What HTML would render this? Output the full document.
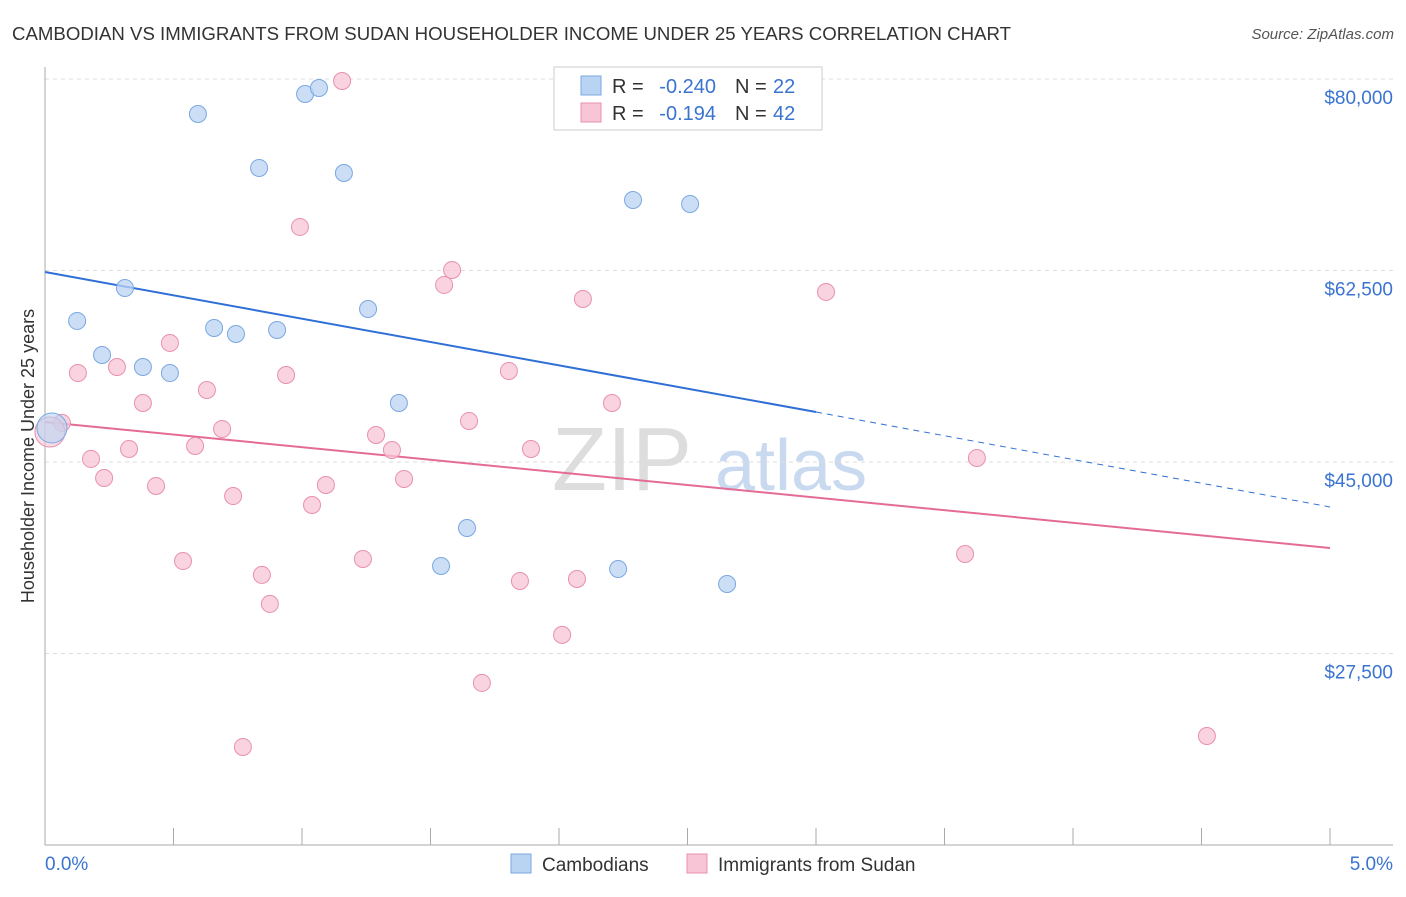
<!DOCTYPE html>
<html><head><meta charset="utf-8"><style>
body{margin:0;background:#fff;font-family:"Liberation Sans",Arial,sans-serif;}
svg text{font-family:"Liberation Sans",Arial,sans-serif;}
</style></head><body>
<svg id="chart" width="1406" height="892">
<text x="12" y="40" font-size="18" fill="#333" textLength="999" lengthAdjust="spacingAndGlyphs">CAMBODIAN VS IMMIGRANTS FROM SUDAN HOUSEHOLDER INCOME UNDER 25 YEARS CORRELATION CHART</text>
<text x="1394" y="39" font-size="15" fill="#555" font-style="italic" text-anchor="end">Source: ZipAtlas.com</text>
<text transform="translate(34,456) rotate(-90)" font-size="18" fill="#333" text-anchor="middle">Householder Income Under 25 years</text>
<g><text x="552" y="490" font-size="90" fill="#ddd" font-family="Liberation Serif">ZIP</text><text x="715" y="490" font-size="72" fill="#c9daf0">atlas</text></g>
<g id="grid"></g><g id="axes"></g><g id="lines"></g><g id="pts"></g>
<g>
<rect x="554" y="67" width="268" height="63" fill="#fff" stroke="#ccc"/>
<rect x="581" y="76" width="20" height="19" fill="#b9d3f3" stroke="#7aa8e0"/>
<rect x="581" y="103" width="20" height="19" fill="#f7c5d5" stroke="#e890ad"/>
<text x="612" y="93" font-size="20" fill="#333">R =</text>
<text x="716" y="93" font-size="20" fill="#3a74d0" text-anchor="end">-0.240</text>
<text x="735" y="93" font-size="20" fill="#333">N =</text>
<text x="773" y="93" font-size="20" fill="#3a74d0">22</text>
<text x="612" y="120" font-size="20" fill="#333">R =</text>
<text x="716" y="120" font-size="20" fill="#3a74d0" text-anchor="end">-0.194</text>
<text x="735" y="120" font-size="20" fill="#333">N =</text>
<text x="773" y="120" font-size="20" fill="#3a74d0">42</text>
</g>
<g>
<rect x="511" y="854" width="20" height="19" fill="#b9d3f3" stroke="#7aa8e0"/>
<text x="542" y="871" font-size="19" fill="#333">Cambodians</text>
<rect x="687" y="854" width="20" height="19" fill="#f7c5d5" stroke="#e890ad"/>
<text x="718" y="871" font-size="19" fill="#333">Immigrants from Sudan</text>
</g>
</svg>
<script>
const yTicks=[80000,62500,45000,27500];
const yTickLabels=["$80,000","$62,500","$45,000","$27,500"];
const xTickLabels=["0.0%","5.0%"];
const blueX=[0.595,0.833,1.012,1.066,1.163,2.288,2.51,0.311,0.125,0.658,0.743,0.903,1.257,0.222,0.381,0.486,1.377,1.642,1.541,2.23,2.654,0.027];
const blueY=[76.8,71.87,78.63,79.18,71.41,68.94,68.58,60.9,57.89,57.25,56.7,57.06,58.98,54.78,53.68,53.13,50.39,38.97,35.5,35.22,33.85,48.11];
const pinkX=[1.156,0.992,1.584,1.553,2.093,3.039,0.486,0.128,0.28,0.938,1.805,0.63,0.381,2.206,0.066,0.689,1.65,1.288,0.584,0.327,1.35,1.891,0.179,3.626,0.23,0.432,1.093,1.397,0.732,1.039,0.537,1.237,3.58,0.844,1.848,2.07,0.875,2.012,1.7,0.77,4.521,0.019];
const pinkY=[79.82,66.48,62.55,61.18,59.9,60.54,55.88,53.13,53.68,52.95,53.32,51.58,50.39,50.39,48.57,48.02,48.75,47.47,46.46,46.19,46.1,46.19,45.28,45.37,43.54,42.81,42.9,43.45,41.89,41.07,35.95,36.14,36.59,34.68,34.13,34.31,32.03,29.2,24.81,18.96,19.96,47.74];
const blueTrend=[62.36,49.57,40.89]; // at x=0, 3.0, 5.0
const pinkTrend=[48.66,37.14]; // at x=0, 5.0
const NS="http://www.w3.org/2000/svg";
const xs=p=>45+p*257;
const ys=v=>79+(80000-v)/17500*191.5;
function mk(tag,attrs,parent){const e=document.createElementNS(NS,tag);for(const k in attrs)e.setAttribute(k,attrs[k]);document.getElementById(parent).appendChild(e);return e;}
yTicks.forEach((t,i)=>{
 const l=mk('line',{x1:45,x2:1393,y1:ys(t),y2:ys(t),stroke:'#ddd','stroke-dasharray':'4,4'},'grid');
 
 
 const tx=mk('text',{x:1393,y:ys(t)+25,'font-size':19,fill:'#3a74d0','text-anchor':'end'},'grid');
 tx.textContent=yTickLabels[i];
 
 
});
const ax=mk('line',{x1:45,x2:1393,y1:845,y2:845,stroke:'#aaa'},'axes');


const ay=mk('line',{x1:45,x2:45,y1:67,y2:845,stroke:'#aaa'},'axes');


for(let i=0;i<=10;i++){const t=mk('line',{x1:xs(i*0.5),x2:xs(i*0.5),y1:828,y2:845,stroke:'#aaa'},'axes');
 
 }
[[0,'start',45],[1,'end',1393]].forEach(([i,a,x])=>{const t=mk('text',{x:x,y:870,'font-size':19,fill:'#3a74d0','text-anchor':a},'axes');t.textContent=xTickLabels[i];
 
 });
const k=v=>v*1000;
let l1=mk('line',{x1:xs(0),y1:ys(k(blueTrend[0])),x2:xs(3),y2:ys(k(blueTrend[1])),stroke:'#2f6fd6','stroke-width':2},'lines');


let l2=mk('line',{x1:xs(3),y1:ys(k(blueTrend[1])),x2:xs(5),y2:ys(k(blueTrend[2])),stroke:'#2f6fd6','stroke-width':1,'stroke-dasharray':'6,5'},'lines');


let l3=mk('line',{x1:xs(0),y1:ys(k(pinkTrend[0])),x2:xs(5),y2:ys(k(pinkTrend[1])),stroke:'#e56b97','stroke-width':2},'lines');


function pts(X,Y,fill,stroke,name){X.forEach((x,i)=>{const big=i===X.length-1&&x<0.05;
 const c=mk('circle',{cx:xs(x),cy:ys(k(Y[i])),r:big?15:8.5,fill:fill,'fill-opacity':big?0.6:0.75,stroke:stroke,'stroke-width':1},'pts');
 
 });}
pts(pinkX,pinkY,'#f7c5d5','#e890ad','sudan-point');
pts(blueX,blueY,'#b9d3f3','#7aa8e0','cambodian-point');
</script>
</body></html>
